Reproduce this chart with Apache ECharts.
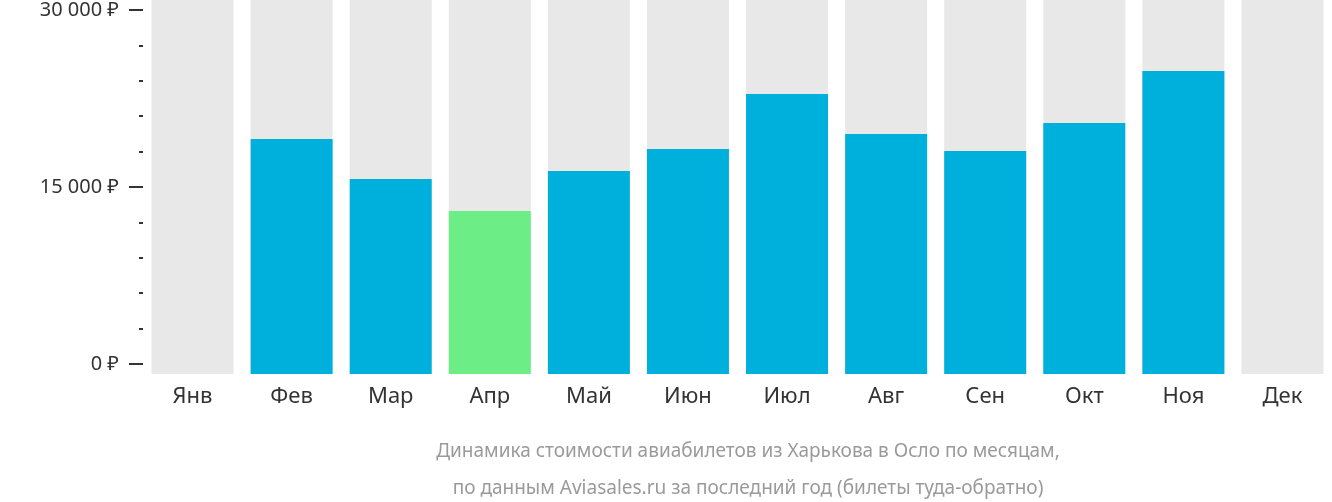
<!DOCTYPE html>
<html>
<head>
<meta charset="utf-8">
<script src="https://cdn.jsdelivr.net/npm/echarts@6/dist/echarts.min.js"></script>
<style>html,body{margin:0;padding:0;background:#fff}#chart{width:1332px;height:502px}</style>
</head>
<body>
<div id="chart"></div>
<script>
var months = ["Янв", "Фев", "Мар", "Апр", "Май", "Июн", "Июл", "Авг", "Сен", "Окт", "Ноя", "Дек"];
var prices = [0, 19260, 15980, 13360, 16640, 18440, 22950, 19670, 18280, 20570, 24840, 0];
var cheapest = "Апр";
var yTicks = [0, 15000, 30000];

var chart = echarts.init(document.getElementById("chart"));
var font = "Noto Sans";

chart.setOption({
  animation: false,
  textStyle: { fontFamily: font },
  title: {
    text: "Динамика стоимости авиабилетов из Харькова в Осло по месяцам,\nпо данным Aviasales.ru за последний год (билеты туда-обратно)",
    left: 743,
    top: 428,
    textAlign: "center",
    textStyle: { color: "#9a9a9a", fontSize: 19, fontWeight: "normal", lineHeight: 37, fontFamily: font }
  },
  grid: [
    // axis only
    { left: 143, right: -11, top: 8, bottom: 138 },
    // bars
    { left: 143, right: -11, top: 0, bottom: 128 }
  ],
  xAxis: [
    { gridIndex: 0, type: "category", data: months, show: false },
    {
      gridIndex: 1,
      type: "category",
      data: months,
      axisLine: { show: false },
      axisTick: { show: false },
      axisLabel: { color: "#333", fontSize: 22, margin: 12 }
    }
  ],
  yAxis: [
    {
      gridIndex: 0,
      type: "value",
      min: yTicks[0],
      max: yTicks[2],
      interval: 15000,
      axisLine: { show: false },
      splitLine: { show: false },
      axisTick: { show: true, length: 14, lineStyle: { color: "#333", width: 2 } },
      minorTick: { show: true, splitNumber: 5, length: 4, lineStyle: { color: "#333", width: 2 } },
      axisLabel: {
        color: "#333",
        fontSize: 20,
        margin: 24,
        formatter: function (v) {
          return String(v).replace(/\B(?=(\d{3})+(?!\d))/g, " ") + " ₽";
        }
      }
    },
    { gridIndex: 1, type: "value", min: 0, max: 30656, show: false }
  ],
  series: [
    {
      type: "bar",
      xAxisIndex: 1,
      yAxisIndex: 1,
      barWidth: 82,
      showBackground: true,
      backgroundStyle: { color: "#e8e8e8" },
      data: prices.map(function (v, i) {
        return {
          value: v,
          itemStyle: { color: months[i] === cheapest ? "#6ced86" : "#00b0dc" }
        };
      })
    }
  ]
});
</script>
</body>
</html>
